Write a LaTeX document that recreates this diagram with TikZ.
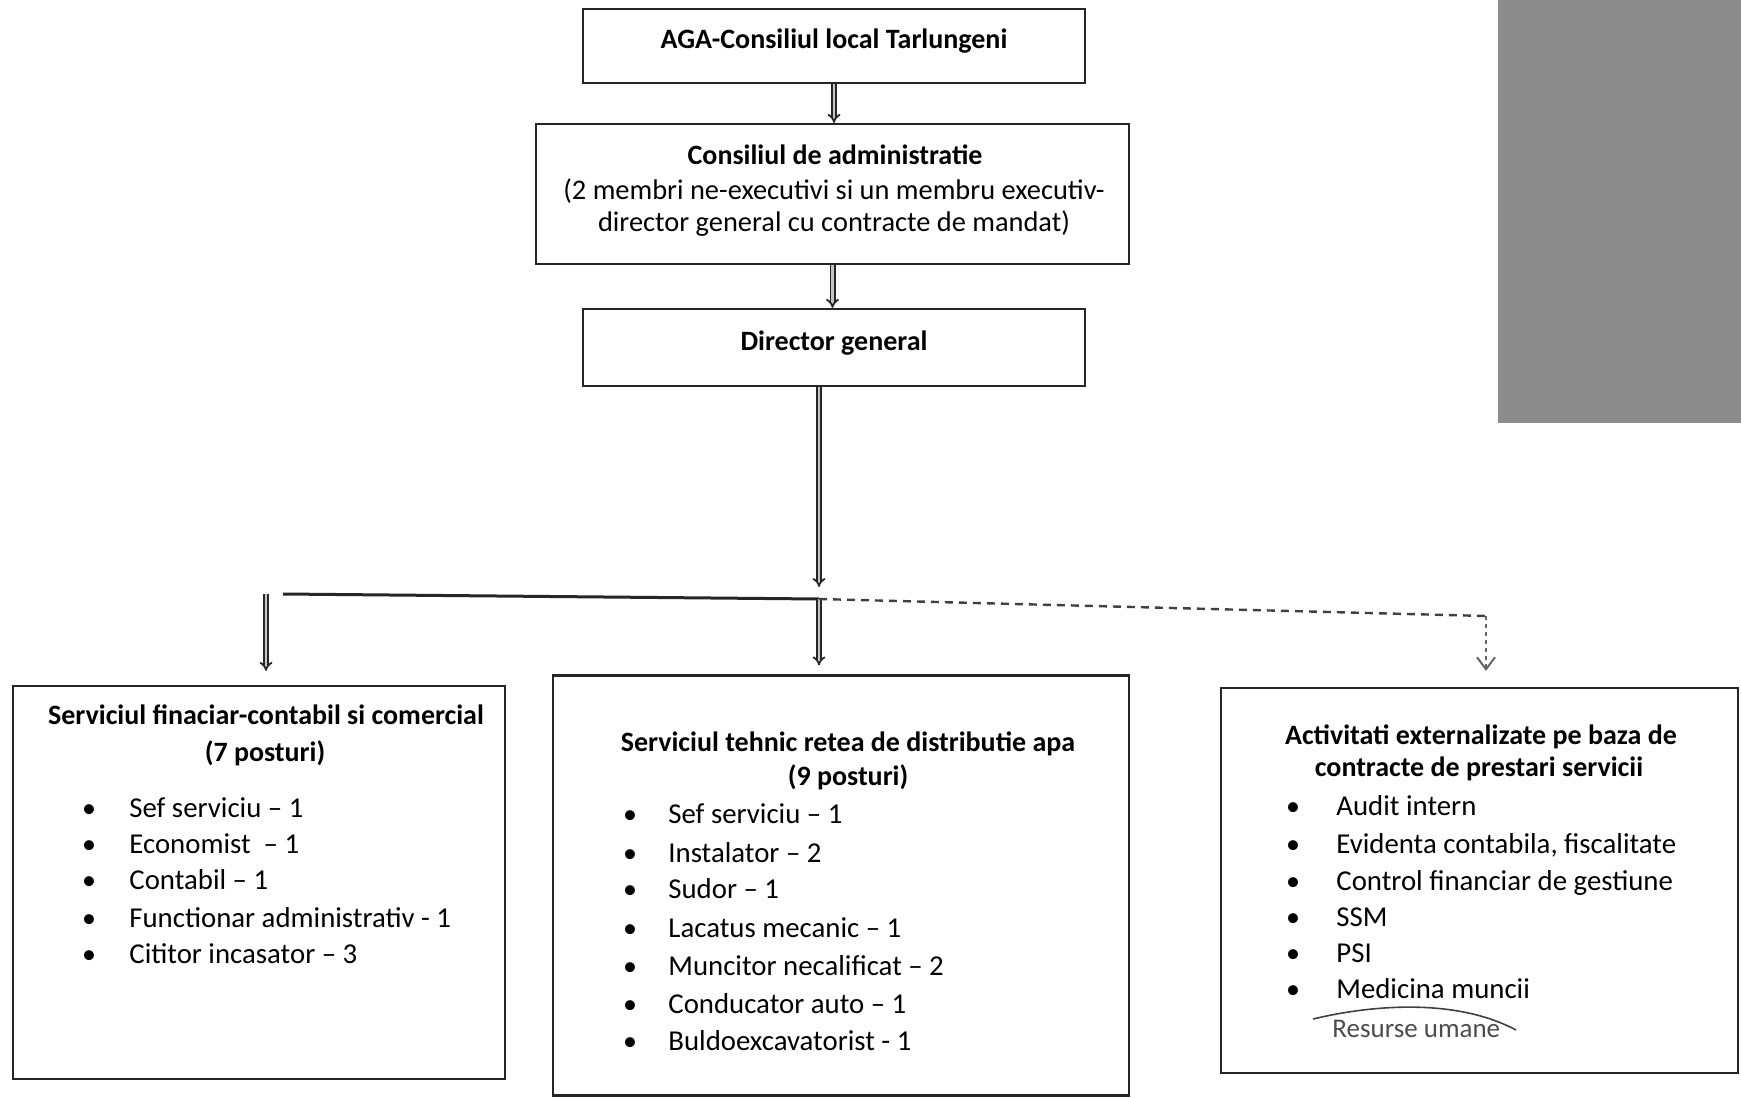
\documentclass[tikz,border=0pt]{standalone}
\usepackage{fontspec}
\setmainfont{Carlito}
\usetikzlibrary{arrows.meta}
\begin{document}
\begin{tikzpicture}[x=0.5pt,y=-0.5pt,
  box/.style={draw=black!85, line width=1.1pt, inner sep=0pt},
  ttl/.style={font=\fontsize{14}{16.8}\selectfont\bfseries, inner sep=0pt, anchor=mid, yshift=-2.7pt},
  txt/.style={font=\fontsize{14.2}{17}\selectfont, inner sep=0pt, anchor=mid, yshift=-2.7pt},
  itm/.style={font=\fontsize{14.4}{17}\selectfont, inner sep=0pt, anchor=mid west, yshift=-2.7pt},
  bul/.style={font=\fontsize{14}{16.8}\selectfont, inner sep=0pt, anchor=mid, yshift=-2.7pt},
  dbl/.style={draw=black!85, line width=0.9pt, double=gray!45, double distance=1.2pt, -{Implies}},
  link/.style={draw=black!85, line width=1.5pt},
  dsh/.style={draw=black!75, line width=1.2pt, dash pattern=on 4pt off 3pt}]
\useasboundingbox (0,0) rectangle (1741,1098);
\fill[black!45] (1498,0) rectangle (1741,423);

% top boxes
\node[box, minimum width=251pt, minimum height=37pt] (aga) at (834,46) {};
\node[ttl] (agat) at (834,38) {AGA-Consiliul local Tarlungeni};

\node[box, minimum width=296.5pt, minimum height=70pt] (cons) at (832.5,194) {};
\node[ttl] (cons1) at (835,154) {Consiliul de administratie};
\node[txt] (cons2) at (834,189) {(2 membri ne-executivi si un membru executiv-};
\node[txt] (cons3) at (834,221) {director general cu contracte de mandat)};

\node[box, minimum width=251pt, minimum height=38.5pt] (dir) at (834,347.5) {};
\node[ttl] (dirt) at (834,340) {Director general};

% bottom boxes
\node[box, minimum width=246pt, minimum height=196.5pt] (fin) at (259,882.5) {};
\node[ttl] (fin1) at (266,714) {Serviciul finaciar-contabil si comercial};
\node[ttl] (fin2) at (265,751) {(7 posturi)};
\foreach \y/\t [count=\i] in {807/Sef serviciu -- 1, 843/Economist~ -- 1, 879/Contabil -- 1, 917/Functionar administrativ - 1, 953/Cititor incasator -- 3}{
  \node[bul] (finb\i) at (89,\y) {•};
  \node[itm] (fini\i) at (129,\y) {\t};
}

\node[box, minimum width=288pt, minimum height=210pt] (teh) at (841,885.5) {};
\node[ttl] (teh1) at (848,741) {Serviciul tehnic retea de distributie apa};
\node[ttl] (teh2) at (848,775) {(9 posturi)};
\foreach \y/\t [count=\i] in {813/Sef serviciu -- 1, 852/Instalator -- 2, 888/Sudor -- 1, 927/Lacatus mecanic -- 1, 965/Muncitor necalificat -- 2, 1003/Conducator auto -- 1, 1040/Buldoexcavatorist - 1}{
  \node[bul] (tehb\i) at (630,\y) {•};
  \node[itm] (tehi\i) at (668,\y) {\t};
}

\node[box, minimum width=258.5pt, minimum height=192.5pt] (ext) at (1479.5,880.5) {};
\node[ttl] (ext1) at (1481,734) {Activitati externalizate pe baza de};
\node[ttl] (ext2) at (1479,766) {contracte de prestari servicii};
\foreach \y/\t [count=\i] in {805/Audit intern, 843/{Evidenta contabila, fiscalitate}, 880/Control financiar de gestiune, 916/SSM, 952/PSI, 988/Medicina muncii}{
  \node[bul] (extb\i) at (1293,\y) {•};
  \node[itm] (exti\i) at (1336,\y) {\t};
}
\node[itm, text=black!70, font=\fontsize{13.5}{16}\selectfont] (extr) at (1332,1027) {Resurse umane};
\draw[black!75, line width=0.8pt] (1313,1019) .. controls (1380,1003) and (1460,1000) .. (1516,1030);

% connectors
\coordinate (j) at (819,599);
\coordinate (lc) at (283,594);
\coordinate (la) at (266,594);
\coordinate (rc) at (1486,616);
\draw[dbl] (aga.south) -- (aga.south |- cons.north);
\draw[dbl] (cons.south) -- (cons.south |- dir.north);
\draw[dbl, shorten >=6pt] (dir.south -| j) -- (j);
\draw[link] (j) -- (lc);
\draw[dbl, shorten >=4.5pt] (j) -- (j |- teh.north);
\draw[dbl, shorten >=7pt] (la) -- (la |- fin.north);
\draw[dsh] (j) -- (rc);
\draw[draw=black!60, line width=1pt, dash pattern=on 2pt off 2pt, -{Straight Barb[length=6pt,width=9pt]}, shorten >=8pt] (rc) -- (rc |- ext.north);
\end{tikzpicture}
\end{document}
